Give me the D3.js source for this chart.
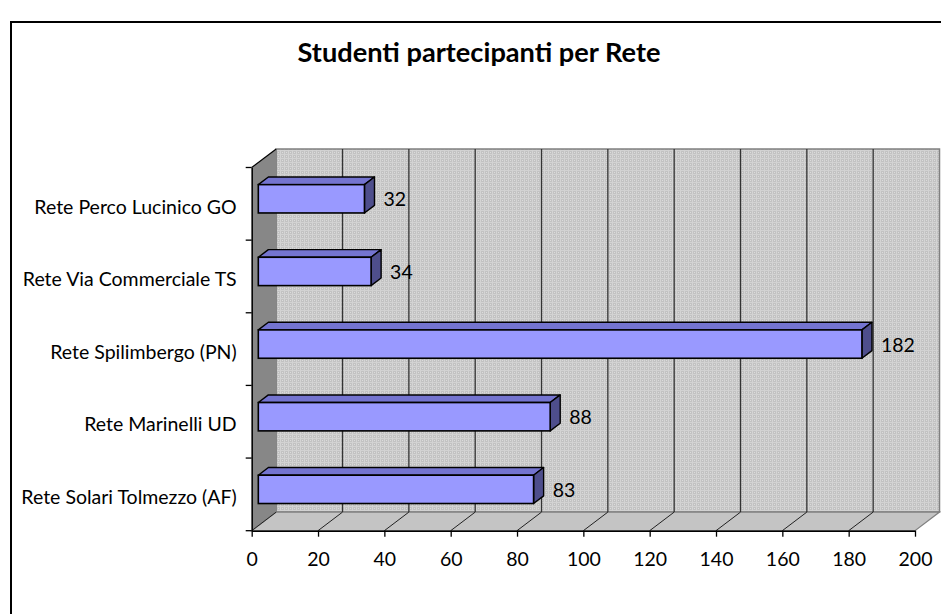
<!DOCTYPE html>
<html>
<head>
<meta charset="utf-8">
<script src="https://cdn.jsdelivr.net/npm/d3@7"></script>
<style>
  html, body { margin: 0; padding: 0; background: #fff; }
  svg { display: block; font-family: Lato, "Noto Sans", sans-serif; }
</style>
</head>
<body>
<svg id="chart" width="941" height="614"></svg>
<script>
// ---- data ----
const title = "Studenti partecipanti per Rete";
const categories = [
  "Rete Solari Tolmezzo (AF)",
  "Rete Marinelli UD",
  "Rete Spilimbergo (PN)",
  "Rete Via Commerciale TS",
  "Rete Perco Lucinico GO"
];
const values = [83, 88, 182, 34, 32];
const xTicks = [0, 20, 40, 60, 80, 100, 120, 140, 160, 180, 200];

(function () {
// ---- layout ----
const svg = d3.select("#chart");
const W = 941, H = 614;
const pLeft = 251.7, pRight = 915, pTop = 167.5, pBottom = 530.7;
const DX = 24.5, DY = -18.6;           // 3D depth of the plot
const f1 = 0.27, f2 = 0.68;            // bar front/back depth fractions
const FS = 19.5;

const x = d3.scaleLinear().domain([0, 200]).range([pLeft, pRight]);
const y = d3.scaleBand().domain(categories).range([pBottom, pTop]).padding(0);
const barH = y.bandwidth() * 0.39;

// pattern for back wall
const defs = svg.append("defs");
const pat = defs.append("pattern").attr("id", "dots").attr("patternUnits", "userSpaceOnUse")
  .attr("width", 4).attr("height", 4);
pat.append("rect").attr("width", 4).attr("height", 4).attr("fill", "#c2c2c2");
pat.append("rect").attr("x", 0).attr("y", 0).attr("width", 1).attr("height", 4).attr("fill", "#d4d4d4");
pat.append("rect").attr("x", 0).attr("y", 2).attr("width", 4).attr("height", 1).attr("fill", "#d2d2d2");
pat.append("rect").attr("x", 2).attr("y", 0).attr("width", 1).attr("height", 1).attr("fill", "#dcdcdc");

// outer frame
svg.append("path").attr("d", `M11,${H} L11,22 L${W},22`)
  .attr("fill", "none").attr("stroke", "#000").attr("stroke-width", 2);

// title
svg.append("text").attr("x", 479).attr("y", 62).attr("text-anchor", "middle")
  .attr("font-weight", "bold").attr("font-size", 27.2).attr("fill", "#000").text(title);

const y0 = y.range()[0], y1 = y.range()[1];
const x0 = x(0), xEnd = x(200);
const pt = (a, b) => a + "," + b;

// back wall
svg.append("path")
  .attr("d", `M${pt(x0 + DX, y1 + DY)} L${pt(xEnd + DX, y1 + DY)} L${pt(xEnd + DX, y0 + DY)} L${pt(x0 + DX, y0 + DY)} Z`)
  .attr("fill", "url(#dots)").attr("stroke", "#808080").attr("stroke-width", 1.5);

// side wall
svg.append("path")
  .attr("d", `M${pt(x0, y1)} L${pt(x0 + DX, y1 + DY)} L${pt(x0 + DX, y0 + DY)} L${pt(x0, y0)} Z`)
  .attr("fill", "#878787").attr("stroke", "none");
svg.append("line").attr("x1", x0).attr("y1", y1).attr("x2", x0 + DX).attr("y2", y1 + DY)
  .attr("stroke", "#000").attr("stroke-width", 1.2);

// floor
svg.append("path")
  .attr("d", `M${pt(x0, y0)} L${pt(x0 + DX, y0 + DY)} L${pt(xEnd + DX, y0 + DY)} L${pt(xEnd, y0)} Z`)
  .attr("fill", "#c4c4c4").attr("stroke", "#808080").attr("stroke-width", 1.2);

// gridlines on back wall and floor
const grid = svg.append("g");
xTicks.slice(1, -1).forEach(t => {
  grid.append("line").attr("x1", x(t) + DX).attr("x2", x(t) + DX)
    .attr("y1", y1 + DY).attr("y2", y0 + DY)
    .attr("stroke", "#333").attr("stroke-width", 1.3);
});
xTicks.slice(0, -1).forEach(t => {
  grid.append("line").attr("x1", x(t)).attr("x2", x(t) + DX)
    .attr("y1", y0).attr("y2", y0 + DY)
    .attr("stroke", "#222").attr("stroke-width", 1);
});

// bars
const bars = svg.append("g");
categories.forEach((c, i) => {
  const v = values[i];
  const cy = y(c) + y.bandwidth() / 2;
  const fx = f1 * DX, fy = f1 * DY, bx = f2 * DX, by = f2 * DY;
  const xa = x(0), xb = x(v);
  const ta = cy - barH / 2, tb = cy + barH / 2;
  // top face
  bars.append("path")
    .attr("d", `M${pt(xa + fx, ta + fy)} L${pt(xa + bx, ta + by)} L${pt(xb + bx, ta + by)} L${pt(xb + fx, ta + fy)} Z`)
    .attr("fill", "#7474d0").attr("stroke", "#000").attr("stroke-width", 1.4).attr("stroke-linejoin", "round");
  // side face
  bars.append("path")
    .attr("d", `M${pt(xb + fx, ta + fy)} L${pt(xb + bx, ta + by)} L${pt(xb + bx, tb + by)} L${pt(xb + fx, tb + fy)} Z`)
    .attr("fill", "#4e4e8c").attr("stroke", "#000").attr("stroke-width", 1.4).attr("stroke-linejoin", "round");
  // front face
  bars.append("rect")
    .attr("x", xa + fx).attr("y", ta + fy).attr("width", xb - xa).attr("height", barH)
    .attr("fill", "#9999ff").attr("stroke", "#000").attr("stroke-width", 1.6);
  // value label
  bars.append("text").attr("x", xb + bx + 9).attr("y", cy + fy + 7.5)
    .attr("font-size", FS).attr("fill", "#000").text(v);
});

// axes
const xAxis = svg.append("g").attr("transform", `translate(0,${y0})`)
  .call(d3.axisBottom(x).tickValues(xTicks).tickSize(6).tickPadding(15).tickSizeOuter(0));
xAxis.select(".domain").attr("stroke", "#000").attr("stroke-width", 1.5);
xAxis.selectAll(".tick line").attr("stroke", "#000").attr("stroke-width", 1.3);
xAxis.selectAll(".tick text").attr("font-size", FS).attr("font-family", "Lato, sans-serif").attr("fill", "#000");

const yAxis = svg.append("g").attr("transform", `translate(${x0},0)`)
  .call(d3.axisLeft(y).tickSize(0).tickPadding(15));
yAxis.select(".domain").attr("stroke", "#000").attr("stroke-width", 1.5);
yAxis.selectAll(".tick text").attr("font-size", FS).attr("font-family", "Lato, sans-serif")
  .attr("fill", "#000").attr("dy", "0.5em");
// category boundary ticks
const bounds = categories.map(c => y(c)).concat([y(categories[0]) + y.bandwidth()]);
yAxis.selectAll(".bt").data(bounds).enter().append("line")
  .attr("x1", -6).attr("x2", 0).attr("y1", d => d).attr("y2", d => d)
  .attr("stroke", "#000").attr("stroke-width", 1.3);
})();
</script>
</body>
</html>
